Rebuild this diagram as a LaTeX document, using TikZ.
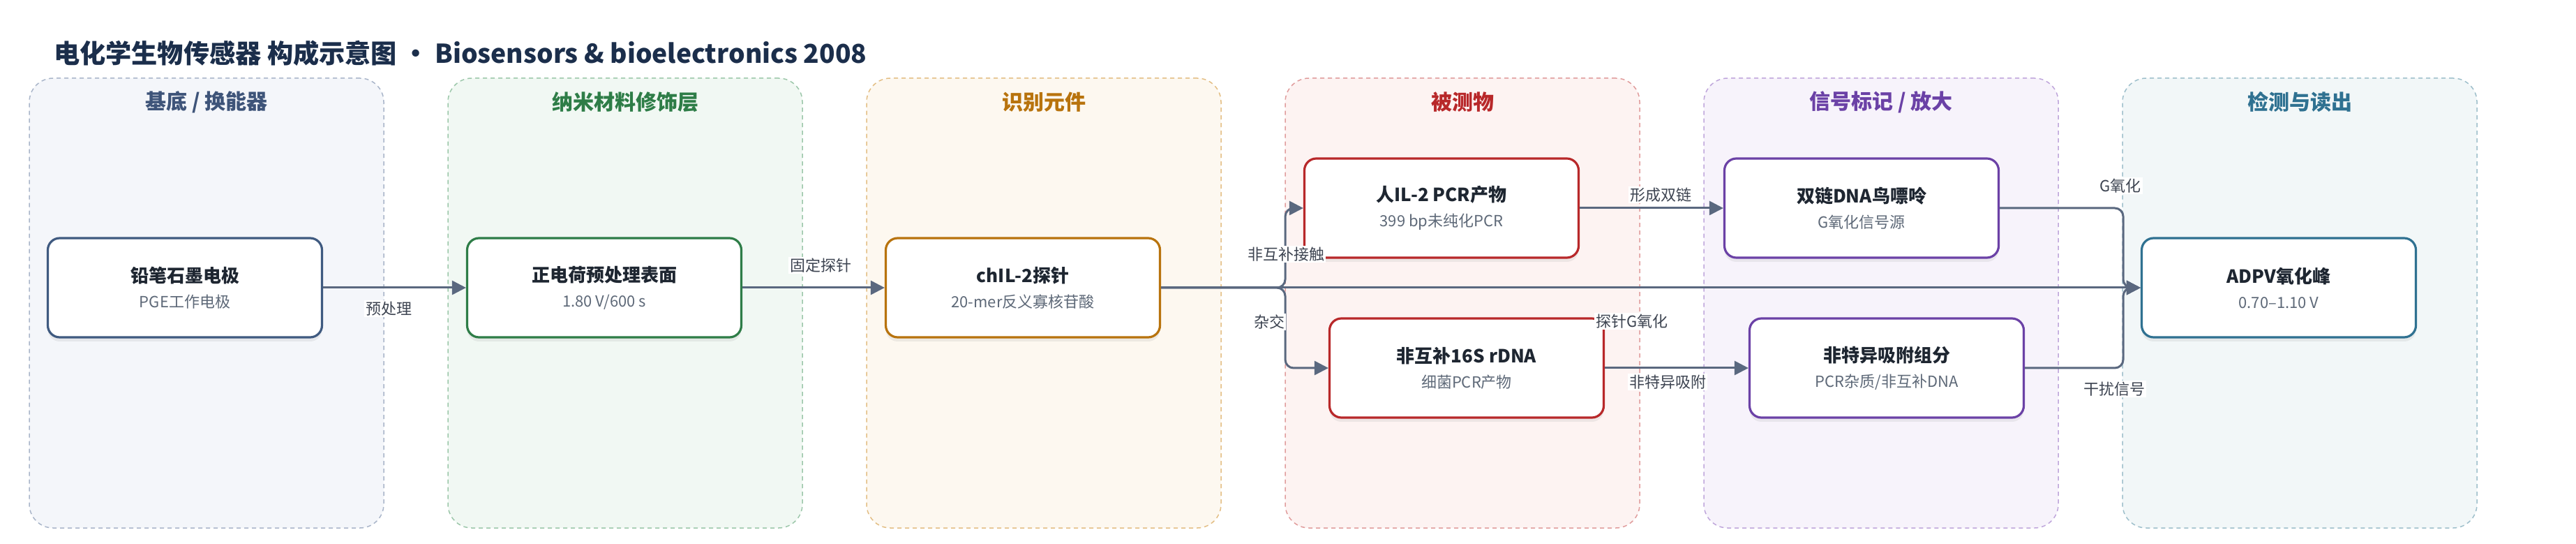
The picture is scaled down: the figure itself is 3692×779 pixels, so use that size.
\documentclass[tikz,border=0pt]{standalone}
\usepackage{fontspec}
\setmainfont{Noto Sans CJK SC}
\usepackage{xcolor}
\usepackage{tikz}
\usetikzlibrary{arrows.meta,shadows}

\definecolor{titlenavy}{HTML}{1B2E4B}
\definecolor{boxtext}{HTML}{1E2631}
\definecolor{subgrey}{HTML}{5E6978}
\definecolor{labelgrey}{HTML}{3D4451}
\definecolor{edgegrey}{HTML}{5A687F}
% lane colours
\definecolor{baseFill}{HTML}{F4F6FA}
\definecolor{baseLine}{HTML}{A9B5C9}
\definecolor{baseText}{HTML}{3E5479}
\definecolor{baseBox}{HTML}{3F5A80}
\definecolor{nanoFill}{HTML}{F1F8F3}
\definecolor{nanoLine}{HTML}{9CC7AA}
\definecolor{nanoText}{HTML}{2E7D47}
\definecolor{probeFill}{HTML}{FDF8F0}
\definecolor{probeLine}{HTML}{E3BE84}
\definecolor{probeText}{HTML}{B8730D}
\definecolor{targetFill}{HTML}{FDF3F2}
\definecolor{targetLine}{HTML}{E09C9C}
\definecolor{targetText}{HTML}{B8282A}
\definecolor{signalFill}{HTML}{F7F3FB}
\definecolor{signalLine}{HTML}{BFA6DB}
\definecolor{signalText}{HTML}{6B41A6}
\definecolor{readFill}{HTML}{F2F7F8}
\definecolor{readLine}{HTML}{9EBFCB}
\definecolor{readText}{HTML}{2F7191}

\tikzset{
    lane/.style={draw, dash pattern=on 3pt off 2.5pt, line width=0.75pt, rounded corners=17pt, minimum width=254pt, minimum height=322pt},
    lanetitle/.style={font=\bfseries\fontsize{15}{18}\selectfont},
    box/.style={draw, line width=1.6pt, fill=white, rounded corners=8.5pt, minimum width=196.5pt, minimum height=71pt, align=center, text=boxtext, font=\fontsize{13}{17}\selectfont, drop shadow={shadow xshift=0pt, shadow yshift=-3pt, opacity=0.12}},
    link/.style={draw=edgegrey, line width=1.5pt, rounded corners=6pt, -{Triangle[length=10pt,width=10pt]}},
    elabel/.style={fill=white, inner sep=1pt, text=labelgrey, font=\fontsize{11}{13}\selectfont}
}

\begin{document}
\begin{tikzpicture}[x=0.5pt, y=-0.5pt]
\useasboundingbox (0,0) rectangle (3692,779);

% Title
\node[anchor=west, text=titlenavy, font=\bfseries\fontsize{18.6}{22}\selectfont] (title) at (70,76) {电化学生物传感器 构成示意图 · Biosensors \& bioelectronics 2008};

% Lanes
\node[lane, fill=baseFill, draw=baseLine] (lane1) at (296,434) {};
\node[lane, fill=nanoFill, draw=nanoLine] (lane2) at (896,434) {};
\node[lane, fill=probeFill, draw=probeLine] (lane3) at (1496,434) {};
\node[lane, fill=targetFill, draw=targetLine] (lane4) at (2096,434) {};
\node[lane, fill=signalFill, draw=signalLine] (lane5) at (2696,434) {};
\node[lane, fill=readFill, draw=readLine] (lane6) at (3296,434) {};

% Lane titles
\node[lanetitle, text=baseText] (head1) at (296,146) {基底 / 换能器};
\node[lanetitle, text=nanoText] (head2) at (896,146) {纳米材料修饰层};
\node[lanetitle, text=probeText] (head3) at (1496,146) {识别元件};
\node[lanetitle, text=targetText] (head4) at (2096,146) {被测物};
\node[lanetitle, text=signalText] (head5) at (2696,146) {信号标记 / 放大};
\node[lanetitle, text=readText] (head6) at (3296,146) {检测与读出};

% Component boxes
\node[box, draw=baseBox] (pge) at (265,412) {\textbf{铅笔石墨电极}\\[1pt]{\color{subgrey}\fontsize{11}{13}\selectfont PGE工作电极}};
\node[box, draw=nanoText] (charge) at (866,412) {\textbf{正电荷预处理表面}\\[1pt]{\color{subgrey}\fontsize{11}{13}\selectfont 1.80 V/600 s}};
\node[box, draw=probeText] (chil) at (1466,412) {\textbf{chIL-2探针}\\[1pt]{\color{subgrey}\fontsize{11}{13}\selectfont 20-mer反义寡核苷酸}};
\node[box, draw=targetText] (hil) at (2066,298) {\textbf{人IL-2 PCR产物}\\[1pt]{\color{subgrey}\fontsize{11}{13}\selectfont 399 bp未纯化PCR}};
\node[box, draw=targetText] (rdna) at (2102,527) {\textbf{非互补16S rDNA}\\[1pt]{\color{subgrey}\fontsize{11}{13}\selectfont 细菌PCR产物}};
\node[box, draw=signalText] (dsdna) at (2668,298) {\textbf{双链DNA鸟嘌呤}\\[1pt]{\color{subgrey}\fontsize{11}{13}\selectfont G氧化信号源}};
\node[box, draw=signalText] (nsa) at (2704,527) {\textbf{非特异吸附组分}\\[1pt]{\color{subgrey}\fontsize{11}{13}\selectfont PCR杂质/非互补DNA}};
\node[box, draw=readText] (adpv) at (3266,412) {\textbf{ADPV氧化峰}\\[1pt]{\color{subgrey}\fontsize{11}{13}\selectfont 0.70–1.10 V}};

% Branch and merge points
\coordinate (split) at (1842,412);
\coordinate (merge) at (3043,412);

% Connectors
\draw[link] (pge.east) -- (charge.west);
\draw[link] (charge.east) -- (chil.west);
\draw[link] (chil.east) -- (adpv.west);
\draw[link] (chil.east) -- (split) |- (hil.west);
\draw[link] (chil.east) -- (split) |- (rdna.west);
\draw[link] (hil.east) -- (dsdna.west);
\draw[link] (rdna.east) -- (nsa.west);
\draw[link] (dsdna.east) -| (merge) -- (adpv.west);
\draw[link] (nsa.east) -| (merge) -- (adpv.west);

% Connector labels
\node[elabel] (lpre) at (557,442) {预处理};
\node[elabel] (lfix) at (1176,380) {固定探针};
\node[elabel] (lcontact) at (1843,364) {非互补接触};
\node[elabel] (lhyb) at (1819,461) {杂交};
\node[elabel] (lprobeox) at (2339,460) {探针G氧化};
\node[elabel] (lduplex) at (2380,279) {形成双链};
\node[elabel] (ladsorb) at (2390,547) {非特异吸附};
\node[elabel] (lgox) at (3039,266) {G氧化};
\node[elabel] (lnoise) at (3030,557) {干扰信号};
\end{tikzpicture}
\end{document}
